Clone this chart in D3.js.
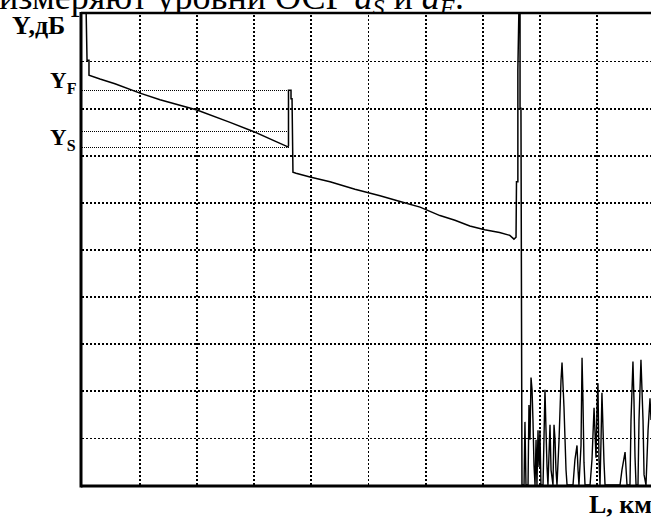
<!DOCTYPE html>
<html><head><meta charset="utf-8">
<script src="https://cdn.jsdelivr.net/npm/d3@7"></script>
<style>
html,body{margin:0;padding:0;background:#fff;}
svg{display:block;}
</style></head>
<body>
<svg id="chart" width="651" height="518"></svg>
<script>
// ---- data (L in km, Y in dB; 5 units per grid division) ----
const xTicks = [0, 5, 10, 15, 20, 25, 30, 35, 40, 45, 50];
const yTicks = [0, 5, 10, 15, 20, 25, 30, 35, 40, 45, 50];
const traceL = [0.35, 0.44, 0.61, 0.61, 1.57, 2.88, 5.07, 6.82, 10.05, 12.94, 15.03, 16.87, 18.0, 18.05, 18.05, 18.27, 18.27, 18.36, 18.44, 18.71, 19.93, 21.68, 23.86, 26.05, 27.8, 29.55, 31.29, 32.6, 33.9, 35.2, 36.5, 37.4, 37.76, 37.94, 37.98, 38.1, 38.1, 38.2, 38.29, 38.29, 38.37, 38.46];
const traceY = [51, 45.1, 45.1, 43.5, 43.1, 42.6, 41.6, 40.9, 39.8, 38.5, 37.5, 36.5, 35.9, 36.0, 41.9, 41.9, 41.0, 41.0, 33.2, 33.1, 32.7, 32.2, 31.4, 30.7, 30.1, 29.5, 28.6, 28.1, 27.5, 27.1, 26.8, 26.5, 26.1, 26.3, 32.2, 32.2, 44.1, 51, 51, 40, 40, 0];
const noiseL = [38.46, 38.64, 38.72, 38.81, 38.99, 39.07, 39.16, 39.25, 39.34, 39.42, 39.51, 39.6, 39.69, 39.77, 39.86, 39.95, 40.03, 40.12, 40.3, 40.47, 40.56, 40.65, 40.73, 40.91, 41.0, 41.17, 41.26, 41.35, 41.43, 41.52, 41.7, 41.87, 41.96, 42.13, 42.31, 42.4, 42.92, 43.09, 43.27, 43.36, 43.44, 43.62, 43.71, 43.79, 43.88, 43.97, 44.41, 44.58, 44.76, 44.93, 45.02, 45.1, 45.19, 45.28, 45.37, 45.45, 45.63, 45.72, 47.03, 47.2, 47.47, 47.64, 47.9, 47.99, 48.16, 48.25, 48.34, 48.43, 48.6, 48.69, 48.86, 49.04, 49.13, 49.3, 49.48, 49.65, 49.74];
const noiseY = [0, 0, 6.7, 0, 0, 8.5, 4.8, 11.4, 10.1, 6.9, 2.1, 0, 4.8, 0, 5.8, 1.9, 5.8, 0, 0, 10.1, 5.8, 1.9, 0, 6.4, 1.6, 0, 6.4, 4.8, 1.6, 0, 4.8, 11.1, 13.0, 8.3, 1.6, 0, 0, 2.7, 4.2, 1.6, 0, 4.2, 13.5, 9.0, 2.4, 0, 0, 2.7, 8.2, 2.9, 8.2, 10.8, 2.7, 0, 4.8, 9.8, 2.4, 0, 0, 1.6, 3.5, 0, 0, 6.9, 13.1, 9.0, 3.0, 0, 0, 6.9, 13.3, 6.9, 1.1, 0, 5.8, 9.2, 6.9];
const levelNames = ["F", "", "S"];
const levelY = [41.9, 37.6, 35.9];
const levelEndL = 18.1;
const captionText = "измеряют уровни ОСР ";

// ---- layout ----
const svg = d3.select("#chart");
const x = d3.scaleLinear().domain([0, 50]).range([82, 654]);
const y = d3.scaleLinear().domain([0, 50]).range([485, 14]);
const serif = "'Liberation Serif','Times New Roman',serif";

// caption (cut off at top, as in the source scan)
const cap = svg.append("text").attr("x", -1).attr("y", 9)
  .attr("font-family", serif).attr("font-size", 36);
cap.append("tspan").text(captionText);
cap.append("tspan").attr("font-style", "italic").text("a");
cap.append("tspan").attr("font-style", "italic").attr("font-size", 24).attr("dy", 6).text("S");
cap.append("tspan").attr("dy", -6).text(" и ");
cap.append("tspan").attr("font-style", "italic").text("a");
cap.append("tspan").attr("font-style", "italic").attr("font-size", 24).attr("dy", 6).text("F");
cap.append("tspan").attr("dy", -6).text(":");

// white plot background over caption descenders
svg.append("rect").attr("x", x(0)).attr("y", 13).attr("width", 651 - x(0)).attr("height", 473).attr("fill", "#fff");

// grid via axes
const gx = svg.append("g").attr("transform", `translate(0,${y(0)})`)
  .call(d3.axisBottom(x).tickValues(xTicks.slice(1, -1)).tickSize(-(y(0) - y(50))).tickFormat(""));
const gy = svg.append("g").attr("transform", `translate(${x(0)},0)`)
  .call(d3.axisLeft(y).tickValues(yTicks.slice(1, -1)).tickSize(-(651 - x(0))).tickFormat(""));
[gx, gy].forEach(g => {
  g.select(".domain").remove();
  g.selectAll(".tick line").attr("stroke", "#000").attr("stroke-width", 1.6)
    .attr("stroke-dasharray", "2,2").attr("shape-rendering", "crispEdges");
});

// level lines
svg.append("g").selectAll("line").data(levelY).join("line")
  .attr("x1", x(0)).attr("x2", x(levelEndL))
  .attr("y1", d => Math.round(y(d)) + 0.5).attr("y2", d => Math.round(y(d)) + 0.5)
  .attr("stroke", "#000").attr("stroke-width", 1).attr("stroke-dasharray", "1,1")
  .attr("shape-rendering", "crispEdges");

// clip for trace
svg.append("clipPath").attr("id", "clip").append("rect")
  .attr("x", x(0)).attr("y", 13).attr("width", 651 - x(0)).attr("height", 473);

const line = d3.line().x(d => x(d[0])).y(d => y(d[1]));
const g = svg.append("g").attr("clip-path", "url(#clip)");
g.append("path").datum(d3.zip(traceL, traceY))
  .attr("d", line).attr("fill", "none").attr("stroke", "#000").attr("stroke-width", 1.5);
g.append("path").datum(d3.zip(noiseL, noiseY))
  .attr("d", line).attr("fill", "none").attr("stroke", "#000").attr("stroke-width", 1.4);

// frame
svg.append("line").attr("x1", x(0) - 1).attr("x2", 651).attr("y1", 13).attr("y2", 13)
  .attr("stroke", "#000").attr("stroke-width", 2.5);
svg.append("line").attr("x1", x(0) - 1).attr("x2", 651).attr("y1", 486).attr("y2", 486)
  .attr("stroke", "#000").attr("stroke-width", 3);
svg.append("line").attr("x1", x(0) - 1).attr("x2", x(0) - 1).attr("y1", 12).attr("y2", 487.5)
  .attr("stroke", "#000").attr("stroke-width", 3);

// labels
svg.append("text").attr("x", 12).attr("y", 34).attr("font-family", serif)
  .attr("font-weight", "bold").attr("font-size", 26).text("Y,дБ");
levelNames.forEach((n, i) => {
  if (!n) return;
  const t = svg.append("text").attr("x", 50).attr("y", y(levelY[i]) - 2)
    .attr("font-family", serif).attr("font-weight", "bold").attr("font-size", 23);
  t.append("tspan").text("Y");
  t.append("tspan").attr("font-size", 16).attr("dy", 6).text(n);
});
svg.append("text").attr("x", 652).attr("y", 513).attr("text-anchor", "end")
  .attr("font-family", serif).attr("font-weight", "bold").attr("font-size", 26).text("L, км");
</script>
</body></html>
